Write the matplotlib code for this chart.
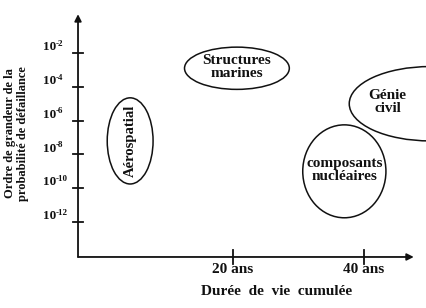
import matplotlib
matplotlib.use("Agg")
import matplotlib.pyplot as plt
from matplotlib.patches import Ellipse, Arc

plt.rcParams['font.family'] = ['Liberation Serif', 'DejaVu Serif']
plt.rcParams['font.weight'] = 'bold'

# data: exponents of failure probability, lifetime ticks (years)
y_exponents = [-2, -4, -6, -8, -10, -12]
x_ticks = [20, 40]
x_tick_labels = ["20 ans", "40 ans"]

# regions: (label, centre year, centre exponent, width yrs, height decades, rotation)
region_labels = ["Aérospatial", "Structures\nmarines", "composants\nnucléaires"]
region_x = [4.3, 20.6, 37.0]
region_y = [-7.2, -2.9, -9.0]
region_w = [7.0, 16.0, 12.7]
region_h = [5.1, 2.5, 5.5]
region_rot = [90, 0, 0]

civil_label = "Génie\ncivil"
civil_x, civil_y = 50.1, -5.0
civil_w, civil_h = 24.7, 4.4

fig = plt.figure(figsize=(4.27, 3.08), dpi=100)
ax = fig.add_axes([0, 0, 1, 1])
ax.set_xlim(-15.57, 49.62)
ax.set_ylim(-17.09, 1.14)
ax.axis('off')

x0, y0 = -3.66, -14.07
ink = '#111111'

# axes with arrows
ax.annotate('', xy=(x0, 0.3), xytext=(x0, y0),
            arrowprops=dict(arrowstyle='-|>', color=ink, lw=1.3, mutation_scale=10,
                            shrinkA=0, shrinkB=0))
ax.annotate('', xy=(47.6, y0), xytext=(x0, y0),
            arrowprops=dict(arrowstyle='-|>', color=ink, lw=1.3, mutation_scale=10,
                            shrinkA=0, shrinkB=0))

# y ticks: "10" plus a raised exponent
for e in y_exponents:
    ax.plot([x0 - 0.8, x0 + 0.8], [e, e], color=ink, lw=1.3)
    ax.text(x0 - 5.3, e + 0.35, "10", ha='left', va='center', fontsize=9.5, color=ink)
    ax.text(x0 - 3.45, e + 0.55, "-%d" % -e, ha='left', va='center', fontsize=6.5,
            color=ink)

# x ticks
for t, lab in zip(x_ticks, x_tick_labels):
    ax.plot([t, t], [y0 - 0.4, y0 + 0.4], color=ink, lw=1.3)
    ax.text(t, y0 - 0.75, lab, ha='center', va='center', fontsize=11, color=ink)

ax.text(26.6, y0 - 2.05, "Durée  de  vie  cumulée", ha='center', va='center',
        fontsize=11, color=ink)
ax.text(-13.1, -6.75, "Ordre de grandeur de la\nprobabilité de défaillance",
        ha='center', va='center', rotation=90, fontsize=9, color=ink, linespacing=1.1)

# regions
for lab, cx, cy, w, h, rot in zip(region_labels, region_x, region_y, region_w, region_h, region_rot):
    ax.add_patch(Ellipse((cx, cy), w, h, fill=False, edgecolor=ink, lw=1.1))
    ax.text(cx, cy + (0.1 if rot == 0 else 0), lab, ha='center', va='center',
            rotation=rot, fontsize=11 if rot == 0 else 10.5, color=ink, linespacing=1.0)

ax.add_patch(Arc((civil_x, civil_y), civil_w, civil_h, theta1=90, theta2=270,
                 edgecolor=ink, lw=1.1, clip_on=False))
ax.text(43.6, -4.9, civil_label, ha='center', va='center', fontsize=11, color=ink,
        linespacing=1.0)

fig.savefig("out.png", dpi=100)
